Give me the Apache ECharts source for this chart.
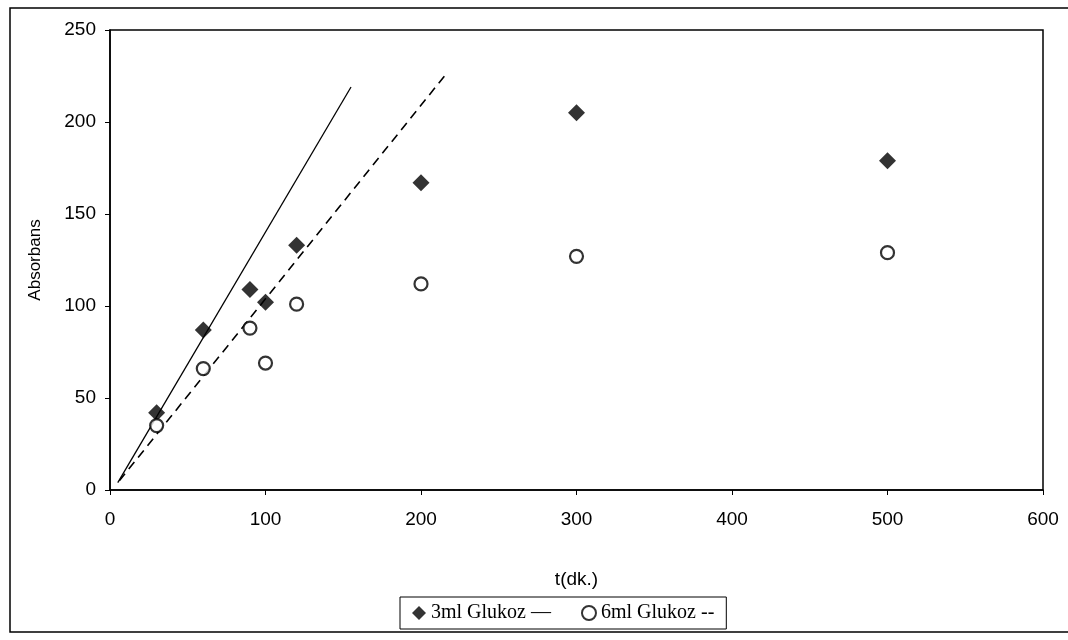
<!DOCTYPE html>
<html>
<head>
<meta charset="utf-8">
<script src="https://cdn.jsdelivr.net/npm/echarts@6/dist/echarts.min.js"></script>
<style>
html,body{margin:0;padding:0;background:#fff;}
#chart{width:1068px;height:640px;}
</style>
</head>
<body>
<div id="chart"></div>
<script>
// Data
var times3 = [30, 60, 90, 100, 120, 200, 300, 500];
var abs3 = [42, 87, 109, 102, 133, 167, 205, 179];
var times6 = [30, 60, 90, 100, 120, 200, 300, 500];
var abs6 = [35, 66, 88, 69, 101, 112, 127, 129];
// Trend lines (start / end points)
var trend3X = [5, 155];
var trend3Y = [4, 219];
var trend6X = [6, 217];
var trend6Y = [5, 227];
var name3 = '3ml Glukoz';
var name6 = '6ml Glukoz';
var xTicks = {min: 0, max: 600, interval: 100};
var yTicks = {min: 0, max: 250, interval: 50};

function pairs(xs, ys) { return xs.map(function (x, i) { return [x, ys[i]]; }); }

var chart = echarts.init(document.getElementById('chart'));
var sans = '"Liberation Sans", Arial, sans-serif';
var serif = '"Liberation Serif", "Times New Roman", serif';
chart.setOption({
  animation: false,
  backgroundColor: '#fff',
  grid: {left: 110, right: 25, top: 30, bottom: 150, show: true, borderColor: '#000', borderWidth: 1.5, backgroundColor: 'transparent'},
  graphic: [{
    type: 'rect', shape: {x: 10, y: 8, width: 1080, height: 624},
    style: {fill: 'none', stroke: '#000', lineWidth: 1.5}, silent: true, z: -1
  }],
  xAxis: {
    type: 'value', min: xTicks.min, max: xTicks.max, interval: xTicks.interval,
    name: 't(dk.)', nameLocation: 'middle', nameGap: 80,
    nameTextStyle: {fontFamily: sans, fontSize: 19, color: '#000'},
    axisLine: {show: true, lineStyle: {color: '#000', width: 1.5}},
    axisTick: {show: true, inside: false, length: 5, lineStyle: {color: '#000'}},
    axisLabel: {fontFamily: sans, fontSize: 19, color: '#000', margin: 20},
    splitLine: {show: false}
  },
  yAxis: {
    type: 'value', min: yTicks.min, max: yTicks.max, interval: yTicks.interval,
    name: 'Absorbans', nameLocation: 'middle', nameGap: 66, nameRotate: 90,
    nameTextStyle: {fontFamily: sans, fontSize: 17, color: '#000'},
    axisLine: {show: true, lineStyle: {color: '#000', width: 1.5}},
    axisTick: {show: true, inside: false, length: 5, lineStyle: {color: '#000'}},
    axisLabel: {fontFamily: sans, fontSize: 19, color: '#000', margin: 14},
    splitLine: {show: false}
  },
  legend: {
    left: 400, top: 597, width: 420,
    orient: 'horizontal',
    borderColor: '#000', borderWidth: 1, padding: [6, 12, 6, 12],
    itemGap: 30, itemWidth: 14, itemHeight: 14,
    textStyle: {fontFamily: serif, fontSize: 20, color: '#000'},
    formatter: function (n) { return n === name3 ? n + ' \u2014' : n + ' --'; },
    data: [
      {name: name3, icon: 'diamond', itemStyle: {color: '#000', borderWidth: 0}},
      {name: name6, icon: 'circle', itemStyle: {color: '#fff', borderColor: '#000', borderWidth: 2}}
    ]
  },
  series: [
    {
      name: name3, type: 'scatter', data: pairs(times3, abs3),
      symbol: 'diamond', symbolSize: 17,
      itemStyle: {color: '#000'}, z: 5
    },
    {
      name: name6, type: 'scatter', data: pairs(times6, abs6),
      symbol: 'circle', symbolSize: 13,
      itemStyle: {color: '#fff', borderColor: '#000', borderWidth: 2.2}, z: 5
    },
    {
      name: 'trend3', type: 'line', data: pairs(trend3X, trend3Y),
      showSymbol: false, symbol: 'none',
      lineStyle: {color: '#000', width: 1.3, type: 'solid'}, z: 3
    },
    {
      name: 'trend6', type: 'line', data: pairs(trend6X, trend6Y),
      showSymbol: false, symbol: 'none',
      lineStyle: {color: '#000', width: 1.6, type: [9, 6]}, z: 3
    }
  ]
});
</script>
</body>
</html>
